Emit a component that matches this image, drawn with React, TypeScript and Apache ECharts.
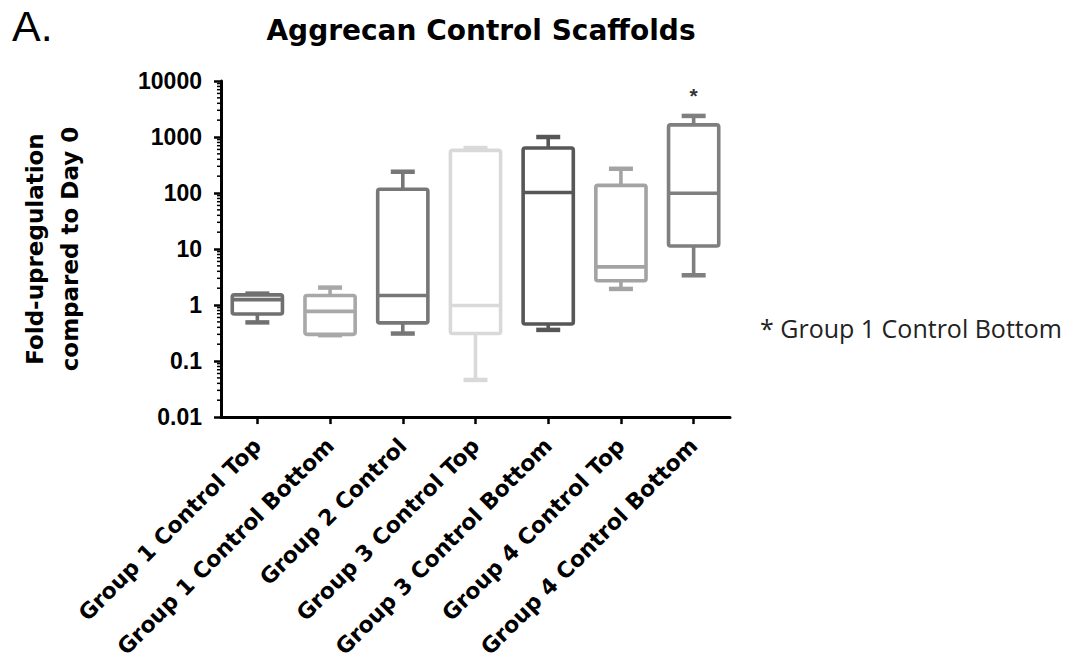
import React, { useEffect, useRef } from 'react';
import * as echarts from 'echarts';

const categories = [
  'Group 1 Control Top',
  'Group 1 Control Bottom',
  'Group 2 Control',
  'Group 3 Control Top',
  'Group 3 Control Bottom',
  'Group 4 Control Top',
  'Group 4 Control Bottom',
];
const minValues = [0.49, 0.29, 0.31, 0.046, 0.36, 1.94, 3.4];
const q1Values = [0.69, 0.3, 0.48, 0.31, 0.46, 2.72, 11.3];
const medianValues = [1.25, 0.77, 1.48, 0.98, 102, 4.8, 99];
const q3Values = [1.52, 1.48, 117, 578, 635, 137, 1650];
const maxValues = [1.6, 2.05, 240, 635, 1000, 271, 2380];
const boxColors = ['#707070', '#a8a8a8', '#777777', '#d9d9d9', '#575757', '#a3a3a3', '#7f7f7f'];
const significance = ['', '', '', '', '', '', '*'];
const yTickLabels = ['0.01', '0.1', '1', '10', '100', '1000', '10000'];
const minorMultipliers = [2, 3, 4, 5, 6, 7, 8, 9];

const GRID_LEFT = 221;
const GRID_TOP = 81;
const GRID_W = 509;
const GRID_H = 339;

export default function App() {
  const ref = useRef<HTMLDivElement>(null);

  useEffect(() => {
    if (!ref.current) return;
    const chart = echarts.init(ref.current, null, { renderer: 'svg' });

    const data = categories.map((_, i) => [
      i,
      minValues[i],
      q1Values[i],
      medianValues[i],
      q3Values[i],
      maxValues[i],
    ]);

    const option: any = {
      animation: false,
      backgroundColor: '#ffffff',
      title: {
        text: 'Aggrecan Control Scaffolds',
        left: 476,
        top: 11,
        textAlign: 'center',
        textStyle: {
          fontFamily: 'DejaVu Sans',
          fontWeight: 'bold',
          fontSize: 28,
          color: '#000',
        },
      },
      grid: {
        left: GRID_LEFT,
        top: GRID_TOP,
        width: GRID_W,
        height: GRID_H,
        containLabel: false,
      },
      xAxis: {
        type: 'category',
        data: categories,
        boundaryGap: true,
        axisLine: { show: true, lineStyle: { color: '#000', width: 3 } },
        axisTick: {
          show: true,
          alignWithLabel: true,
          length: 7,
          lineStyle: { color: '#000', width: 2.5 },
        },
        axisLabel: {
          interval: 0,
          rotate: 45,
          margin: 25,
          fontFamily: 'DejaVu Sans',
          fontWeight: 'bold',
          fontSize: 22,
          color: '#000',
        },
        splitLine: { show: false },
      },
      yAxis: {
        type: 'log',
        logBase: 10,
        min: 0.01,
        max: 10000,
        name: 'Fold-upregulation\ncompared to Day 0',
        nameLocation: 'middle',
        nameRotate: 90,
        nameGap: 134,
        nameTextStyle: {
          fontFamily: 'DejaVu Sans',
          fontWeight: 'bold',
          fontSize: 23,
          lineHeight: 35,
          color: '#000',
        },
        axisLine: { show: true, lineStyle: { color: '#000', width: 3 } },
        axisTick: { show: true, length: 7, lineStyle: { color: '#000', width: 2.5 } },
        axisLabel: {
          margin: 19,
          fontFamily: 'Liberation Sans',
          fontWeight: 'bold',
          fontSize: 23,
          color: '#000',
          formatter: (v: number) => {
            const k = Math.round(Math.log10(v)) + 2;
            return yTickLabels[k] ?? String(v);
          },
        },
        splitLine: { show: false },
        minorTick: { show: false },
      },
      series: [
        {
          type: 'custom',
          name: 'Aggrecan',
          data,
          encode: { x: 0, y: [1, 2, 3, 4, 5] },
          renderItem: (params: any, api: any) => {
            const idx = api.value(0);
            const pMin = api.coord([idx, api.value(1)]);
            const pQ1 = api.coord([idx, api.value(2)]);
            const pMed = api.coord([idx, api.value(3)]);
            const pQ3 = api.coord([idx, api.value(4)]);
            const pMax = api.coord([idx, api.value(5)]);
            const cx = pMed[0];
            const band = api.size([1, 1])[0];
            const boxW = band * 0.69;
            const capW = band * 0.33;
            const color = boxColors[params.dataIndex];
            const lw = 3.6;
            const children: any[] = [
              {
                type: 'line',
                shape: { x1: cx, y1: pQ3[1], x2: cx, y2: pMax[1] },
                style: { stroke: color, lineWidth: lw },
              },
              {
                type: 'line',
                shape: { x1: cx - capW / 2, y1: pMax[1], x2: cx + capW / 2, y2: pMax[1] },
                style: { stroke: color, lineWidth: 4.5 },
              },
              {
                type: 'line',
                shape: { x1: cx, y1: pQ1[1], x2: cx, y2: pMin[1] },
                style: { stroke: color, lineWidth: lw },
              },
              {
                type: 'line',
                shape: { x1: cx - capW / 2, y1: pMin[1], x2: cx + capW / 2, y2: pMin[1] },
                style: { stroke: color, lineWidth: 4.5 },
              },
              {
                type: 'rect',
                shape: {
                  x: cx - boxW / 2,
                  y: pQ3[1],
                  width: boxW,
                  height: pQ1[1] - pQ3[1],
                  r: 2,
                },
                style: { fill: '#ffffff', stroke: color, lineWidth: lw },
              },
              {
                type: 'line',
                shape: { x1: cx - boxW / 2, y1: pMed[1], x2: cx + boxW / 2, y2: pMed[1] },
                style: { stroke: color, lineWidth: lw },
              },
            ];
            const sig = significance[params.dataIndex];
            if (sig) {
              children.push({
                type: 'text',
                style: {
                  text: sig,
                  x: cx,
                  y: pMax[1] - 20,
                  align: 'center',
                  verticalAlign: 'middle',
                  fontFamily: 'Liberation Sans',
                  fontWeight: 'bold',
                  fontSize: 21,
                  fill: '#333',
                },
              });
            }
            return { type: 'group', children };
          },
          z: 2,
        },
      ],
      graphic: [
        {
          type: 'text',
          left: 12,
          top: 4,
          style: {
            text: 'A.',
            fontFamily: 'Liberation Sans',
            fontSize: 43,
            fill: '#000',
          },
        },
        {
          type: 'text',
          left: 760,
          top: 315,
          style: {
            text: '* Group 1 Control Bottom',
            fontFamily: 'Open Sans',
            fontSize: 25,
            fill: '#222',
          },
        },
      ],
    };

    chart.setOption(option);

    // minor log ticks on the y axis, positioned with the axis scale
    const minorTicks: any[] = [];
    for (let k = -2; k < 4; k++) {
      minorMultipliers.forEach((m) => {
        const v = m * Math.pow(10, k);
        const y = chart.convertToPixel({ yAxisIndex: 0 } as any, v) as unknown as number;
        minorTicks.push({
          type: 'line',
          shape: { x1: GRID_LEFT - 4, y1: y, x2: GRID_LEFT, y2: y },
          style: { stroke: '#000', lineWidth: 1.5 },
          silent: true,
        });
      });
    }
    chart.setOption({
      graphic: [
        option.graphic[0],
        option.graphic[1],
        { type: 'group', children: minorTicks },
      ],
    });

    return () => chart.dispose();
  }, []);

  return (
    <div
      ref={ref}
      style={{ position: 'absolute', left: 0, top: 0, width: 1077, height: 661 }}
    />
  );
}
